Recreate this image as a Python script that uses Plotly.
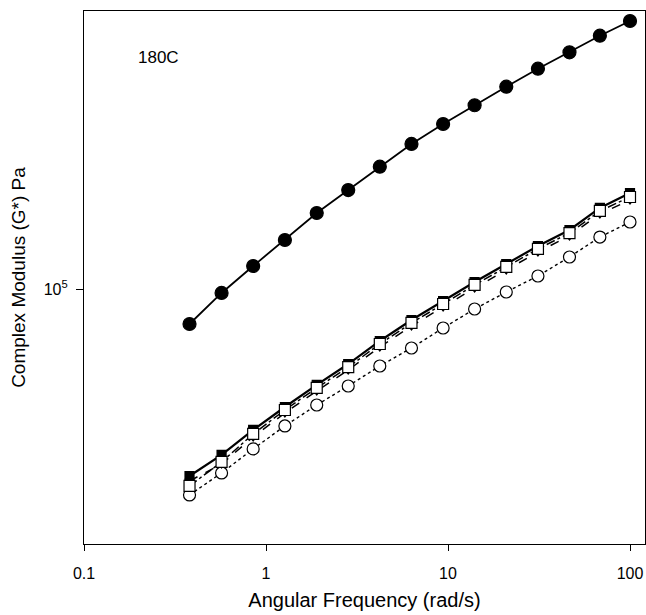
import plotly.graph_objects as go

freq = [0.38, 0.57, 0.85, 1.27, 1.9, 2.83, 4.22, 6.3, 9.4, 14.0, 20.9, 31.2, 46.5, 68.3, 100]

g_filled_circle = [80000, 97500, 115800, 136700, 162400, 188000, 218200, 252200,
                   286500, 322900, 363400, 407600, 452600, 503100, 552500]
g_filled_square = [30340, 34700, 40690, 47110, 54220, 61960, 71780, 82060,
                   92640, 104560, 117300, 131550, 145700, 167700, 184500]
g_triangle = [29390, 32750, 38900, 45350, 52180, 59640, 69070, 78980,
              89150, 100600, 112900, 126600, 140300, 161400, 176400]
g_open_square = [28470, 33180, 39670, 46220, 53190, 60790, 70400, 80520,
                 90880, 102600, 115100, 129100, 142900, 164500, 179800]
g_open_circle = [26880, 30930, 36060, 41740, 47720, 53870, 61190, 68630,
                 77980, 88010, 98100, 108650, 122650, 139300, 153300]

x_tickvals = [0.1, 1, 10, 100]
x_ticktext = ["0.1", "1", "10", "100"]
y_tickvals = [1e5]
y_ticktext = ["10<sup>5</sup>"]

fig = go.Figure()

def add(y, symbol, fill, dash, width, msize, lw=1.2):
    fig.add_trace(go.Scatter(
        x=freq, y=y, mode="lines+markers",
        line=dict(color="black", width=width, dash=dash),
        marker=dict(symbol=symbol, size=msize, color=fill,
                    line=dict(color="black", width=lw)),
        showlegend=False))

add(g_open_circle, "circle", "white", "dot", 1.4, 12)
add(g_triangle, "triangle-down", "black", "dash", 1.5, 8)
add(g_filled_square, "square", "black", "solid", 2.2, 9)
add(g_open_square, "square", "white", "dashdot", 1.5, 11)
add(g_filled_circle, "circle", "black", "solid", 1.8, 13)

fig.add_annotation(x=0.093, y=0.912, xref="paper", yref="paper", text="180C",
                   showarrow=False, xanchor="left", yanchor="middle",
                   font=dict(size=17, color="black", family="Liberation Sans, Arial"))

fig.update_layout(
    width=646, height=615,
    margin=dict(l=84, r=1, t=11, b=71),
    paper_bgcolor="white", plot_bgcolor="white",
    font=dict(family="Liberation Sans, Arial", size=16, color="black"),
    xaxis=dict(type="log", range=[-1, 2.0824], tickvals=x_tickvals, ticktext=x_ticktext,
               ticks="outside", ticklen=6, tickwidth=1, tickcolor="black",
               ticklabelstandoff=9,
               showline=True, linecolor="black", linewidth=1.2, mirror=True,
               showgrid=False, zeroline=False,
               title=dict(text="Angular Frequency (rad/s)", font=dict(size=20), standoff=11),
               tickfont=dict(size=16)),
    yaxis=dict(type="log", range=[4.2936, 5.7701], tickvals=y_tickvals, ticktext=y_ticktext,
               ticks="outside", ticklen=7, tickwidth=1, tickcolor="black",
               ticklabelstandoff=5,
               showline=True, linecolor="black", linewidth=1.2, mirror=True,
               showgrid=False, zeroline=False,
               title=dict(text="Complex Modulus (G*) Pa", font=dict(size=19), standoff=13),
               tickfont=dict(size=16)),
)

fig.write_html("out.html", config={"displayModeBar": False},
               post_script="document.body.style.margin='0px';")
